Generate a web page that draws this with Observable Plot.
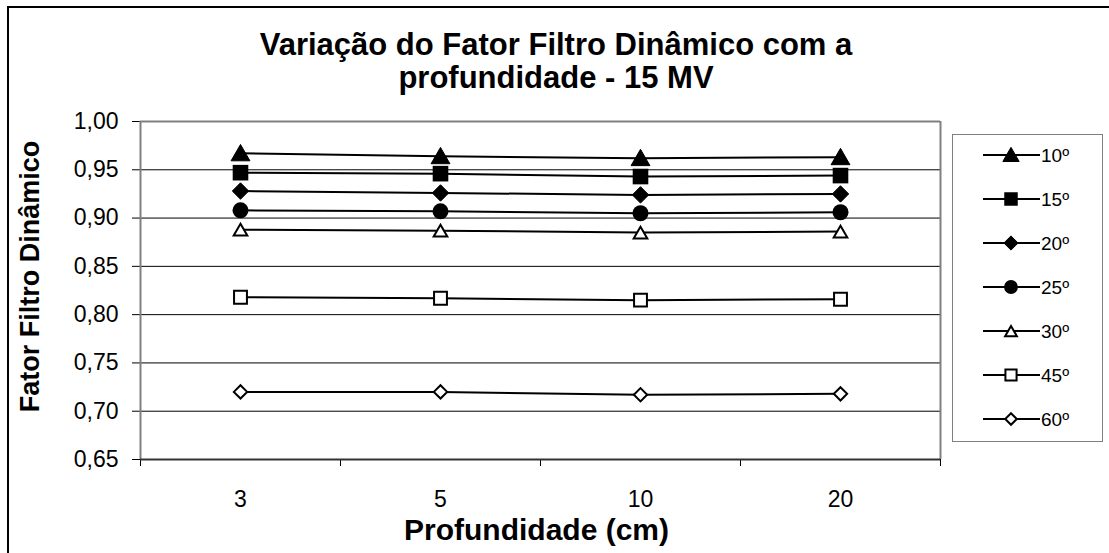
<!DOCTYPE html>
<html><head><meta charset="utf-8">
<script src="https://cdn.jsdelivr.net/npm/d3@7"></script>
<script src="https://cdn.jsdelivr.net/npm/@observablehq/plot@0.6"></script>
<style>
body{margin:0;background:#fff;font-family:"Liberation Sans",Arial,sans-serif;}
#wrap{position:relative;width:1109px;height:553px;overflow:hidden;background:#fff;}
#frame{position:absolute;left:7px;top:6px;width:1300px;height:700px;border-top:2px solid #000;border-left:2px solid #000;}
#title{position:absolute;left:0;top:28px;width:1112px;text-align:center;font-weight:bold;font-size:31px;line-height:33px;color:#000;}
#chart{position:absolute;left:0;top:0;}
#legend{position:absolute;left:952px;top:134px;width:149px;height:306px;border:1.5px solid #808080;background:#fff;}
</style></head>
<body>
<div id="wrap">
  <div id="frame"></div>
  <div id="chart"></div>
  <div id="title">Variação do Fator Filtro Dinâmico com a<br>profundidade - 15 MV</div>
  <div id="legend"></div>
</div>
<script>
const depths = ["3", "5", "10", "20"];
const angles = ["10º", "15º", "20º", "25º", "30º", "45º", "60º"];
const fdf10 = [0.967, 0.964, 0.962, 0.963];
const fdf15 = [0.947, 0.946, 0.943, 0.944];
const fdf20 = [0.928, 0.926, 0.924, 0.925];
const fdf25 = [0.908, 0.907, 0.905, 0.906];
const fdf30 = [0.888, 0.887, 0.885, 0.886];
const fdf45 = [0.818, 0.817, 0.815, 0.816];
const fdf60 = [0.720, 0.720, 0.717, 0.718];
const yTicks = [0.65, 0.70, 0.75, 0.80, 0.85, 0.90, 0.95, 1.00];

const series = [fdf10, fdf15, fdf20, fdf25, fdf30, fdf45, fdf60];
const rows = angles.flatMap((a, s) => depths.map((d, i) => ({angle: a, depth: d, pos: i + 0.5, value: series[s][i]})));

// marker styles (not data)
const mk = {
  "10º": {symbol: "triangle", d3s: d3.symbolTriangle, fill: "black", sw: 1, r: 7.0, dy: 2},
  "15º": {symbol: "square", d3s: d3.symbolSquare, fill: "black", sw: 0, r: 8.8, dy: 0},
  "20º": {symbol: "diamond2", d3s: d3.symbolDiamond2, fill: "black", sw: 1, r: 7.4, dy: 0},
  "25º": {symbol: "circle", d3s: d3.symbolCircle, fill: "black", sw: 0, r: 8.0, dy: 0},
  "30º": {symbol: "triangle2", d3s: d3.symbolTriangle2, fill: "white", sw: 2, r: 6.5, dy: 2},
  "45º": {symbol: "square2", d3s: d3.symbolSquare2, fill: "white", sw: 2, r: 8.2, dy: 0},
  "60º": {symbol: "diamond2", d3s: d3.symbolDiamond2, fill: "white", sw: 2, r: 6.0, dy: 0}
};

const fmt = d => d.toFixed(2).replace(".", ",");

const chart = Plot.plot({
  width: 1109, height: 553,
  marginLeft: 140, marginRight: 169, marginTop: 121, marginBottom: 94,
  x: {type: "linear", domain: [0, depths.length], axis: null},
  y: {domain: [0.65, 1.0], axis: null},
  style: {fontFamily: "'Liberation Sans', Arial, sans-serif", color: "black", background: "transparent", overflow: "visible"},
  marks: [
    Plot.gridY(yTicks.filter(t => t > 0.66 && t < 0.99), {stroke: "black", strokeOpacity: 1, strokeWidth: 1}),
    Plot.ruleY([yTicks[yTicks.length - 1]], {stroke: "#808080", strokeWidth: 2}),
    Plot.ruleX([depths.length], {stroke: "#808080", strokeWidth: 2}),
    Plot.axisY({ticks: yTicks, tickSize: 8, tickPadding: 14, tickFormat: fmt, fontSize: 23, label: null, strokeWidth: 1}),
    Plot.axisX({ticks: d3.range(depths.length + 1), tickSize: 7, tickFormat: () => "", label: null}),
    Plot.axisX({ticks: depths.map((d, i) => i + 0.5), tickSize: 0, tickPadding: 31, tickFormat: v => depths[Math.floor(v)], fontSize: 23, label: null}),
    Plot.ruleX([0], {stroke: "#808080", strokeWidth: 2}),
    Plot.ruleY([yTicks[0]], {stroke: "#333", strokeWidth: 2}),
    Plot.line(rows, {x: "pos", y: "value", z: "angle", stroke: "black", strokeWidth: 2}),
    ...angles.map(a => Plot.dot(rows.filter(r => r.angle === a), {
      x: "pos", y: "value", symbol: mk[a].symbol, r: mk[a].r,
      fill: mk[a].fill, stroke: "black", strokeWidth: mk[a].sw, dy: mk[a].dy
    })),
    Plot.text(["Fator Filtro Dinâmico"], {text: d => d, frameAnchor: "left", textAnchor: "middle", lineAnchor: "middle", dx: -110, dy: -14, rotate: -90, fontSize: 27, fontWeight: "bold"}),
    Plot.text(["Profundidade (cm)"], {text: d => d, frameAnchor: "bottom", lineAnchor: "middle", dy: 71, dx: -4, fontSize: 30, fontWeight: "bold"})
  ]
});
document.getElementById("chart").appendChild(chart);

// legend
const lg = d3.select("#legend").append("svg").attr("width", 149).attr("height", 306);
angles.forEach((a, i) => {
  const y = 20 + i * 44;
  const g = lg.append("g").attr("transform", `translate(0,${y})`);
  g.append("line").attr("x1", 30).attr("x2", 87).attr("y1", 0).attr("y2", 0).attr("stroke", "black").attr("stroke-width", 2);
  const s = mk[a];
  const size = Math.PI * s.r * s.r * 0.75;
  g.append("path").attr("d", d3.symbol(s.d3s, size)()).attr("transform", `translate(58,${s.dy * 0.9})`)
    .attr("fill", s.fill).attr("stroke", "black").attr("stroke-width", s.sw);
  g.append("text").attr("x", 88).attr("y", 0).attr("dy", "0.35em").attr("font-size", 19)
    .attr("font-family", "'Liberation Sans', Arial, sans-serif").text(a);
});
</script>
</body></html>
